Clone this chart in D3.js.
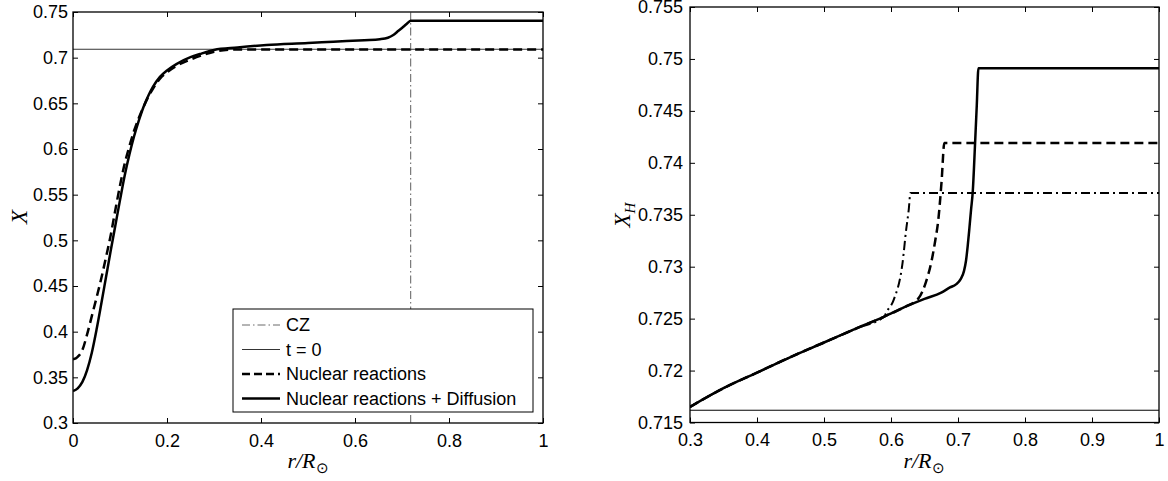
<!DOCTYPE html>
<html>
<head>
<meta charset="utf-8">
<script src="https://cdn.jsdelivr.net/npm/d3@7"></script>
<style>
  body { margin: 0; background: #fff; }
  svg text { font-family: "Liberation Sans", Arial, sans-serif; fill: #000; }
  .tick line { stroke: #000; }
  .math { font-family: "Liberation Serif", "Times New Roman", serif; font-style: italic; }
</style>
</head>
<body>
<div id="chart"></div>
<script>
// ---- left panel: hydrogen profile X(r) ----
var leftXTicks = [0, 0.2, 0.4, 0.6, 0.8, 1];
var leftYTicks = [0.3, 0.35, 0.4, 0.45, 0.5, 0.55, 0.6, 0.65, 0.7, 0.75];
var czRadius = 0.7185;
var initialX = 0.7092;

var leftDiffR = [0, 0.01, 0.02, 0.03, 0.04, 0.05, 0.06, 0.07, 0.08, 0.09, 0.1, 0.11, 0.12, 0.13, 0.14, 0.15, 0.16, 0.17, 0.185, 0.2, 0.22, 0.25, 0.27, 0.3, 0.35, 0.412, 0.5, 0.554, 0.62, 0.653, 0.67, 0.6815, 0.6925, 0.7028, 0.712, 0.7185, 1];
var leftDiffX = [0.335, 0.338, 0.345, 0.358, 0.377, 0.402, 0.43, 0.459, 0.488, 0.516, 0.544, 0.571, 0.594, 0.614, 0.631, 0.646, 0.658, 0.668, 0.679, 0.686, 0.693, 0.7005, 0.704, 0.7085, 0.7112, 0.7139, 0.716, 0.7175, 0.7192, 0.7202, 0.7218, 0.7248, 0.7295, 0.7339, 0.738, 0.7405, 0.7405];

var leftNucR = [0, 0.01, 0.02, 0.03, 0.04, 0.05, 0.06, 0.07, 0.08, 0.09, 0.1, 0.11, 0.12, 0.13, 0.14, 0.15, 0.16, 0.17, 0.185, 0.2, 0.22, 0.25, 0.28, 0.3, 0.32, 0.35, 1];
var leftNucX = [0.3696, 0.3725, 0.38, 0.397, 0.417, 0.437, 0.458, 0.481, 0.505, 0.533, 0.56, 0.584, 0.603, 0.62, 0.634, 0.646, 0.657, 0.666, 0.677, 0.684, 0.691, 0.698, 0.7035, 0.7065, 0.7082, 0.709, 0.709];

var legendLabels = ["CZ", "t = 0", "Nuclear reactions", "Nuclear reactions + Diffusion"];

// ---- right panel: zoom on the envelope ----
var rightXTicks = [0.3, 0.4, 0.5, 0.6, 0.7, 0.8, 0.9, 1];
var rightYTicks = [0.715, 0.72, 0.725, 0.73, 0.735, 0.74, 0.745, 0.75, 0.755];
var rightInitialX = 0.71618;

var rightDiffR = [0.3, 0.35, 0.4, 0.45, 0.5, 0.55, 0.59, 0.62, 0.65, 0.675, 0.688, 0.697, 0.704, 0.709, 0.712, 0.7145, 0.717, 0.7195, 0.722, 0.7255, 0.728, 0.7305, 1];
var rightDiffX = [0.7165, 0.7183, 0.7198, 0.7213, 0.7227, 0.7241, 0.7252, 0.7261, 0.7269, 0.7275, 0.728, 0.7283, 0.7288, 0.7296, 0.7306, 0.732, 0.7337, 0.7355, 0.7372, 0.7419, 0.7455, 0.7491, 0.7491];

var rightNucR = [0.3, 0.35, 0.4, 0.45, 0.5, 0.55, 0.59, 0.62, 0.6416, 0.652, 0.6607, 0.666, 0.6706, 0.6756, 0.6796, 1];
var rightNucX = [0.7165, 0.7183, 0.7198, 0.7213, 0.7227, 0.7241, 0.7252, 0.7261, 0.727, 0.7285, 0.7306, 0.7325, 0.7345, 0.7383, 0.7419, 0.7419];

var rightCzR = [0.3, 0.35, 0.4, 0.45, 0.5, 0.55, 0.59, 0.593, 0.604, 0.6173, 0.6227, 0.6265, 0.629, 1];
var rightCzX = [0.7165, 0.7183, 0.7198, 0.7213, 0.7227, 0.7241, 0.7252, 0.7256, 0.7268, 0.7304, 0.7336, 0.7355, 0.7371, 0.7371];

function zip(a, b) {
  return a.map(function (v, i) { return [v, b[i]]; });
}
function fmt(d) {
  return String(+d.toFixed(4));
}

var W = 1168, H = 481;
var svg = d3.select("#chart").append("svg").attr("width", W).attr("height", H);

function panel(id, box, xDom, yDom, xTicks, yTicks, yPad) {
  var x = d3.scaleLinear().domain(xDom).range([box.x0, box.x1]);
  var y = d3.scaleLinear().domain(yDom).range([box.y1, box.y0]);
  var g = svg.append("g");

  g.append("clipPath").attr("id", id)
    .append("rect")
    .attr("x", box.x0).attr("y", box.y0)
    .attr("width", box.x1 - box.x0).attr("height", box.y1 - box.y0);

  var bottom = g.append("g").attr("transform", "translate(0," + box.y1 + ")")
    .call(d3.axisBottom(x).tickValues(xTicks).tickSize(-5).tickPadding(11).tickFormat(fmt));
  var top = g.append("g").attr("transform", "translate(0," + box.y0 + ")")
    .call(d3.axisTop(x).tickValues(xTicks).tickSize(-5).tickFormat(""));
  var left = g.append("g").attr("transform", "translate(" + box.x0 + ",0)")
    .call(d3.axisLeft(y).tickValues(yTicks).tickSize(-5).tickPadding(yPad).tickFormat(fmt));
  var right = g.append("g").attr("transform", "translate(" + box.x1 + ",0)")
    .call(d3.axisRight(y).tickValues(yTicks).tickSize(-5).tickFormat(""));

  [bottom, top, left, right].forEach(function (a) {
    a.select(".domain").remove();
    a.selectAll("text").style("font-size", "18px").style("font-family", "'Liberation Sans', Arial, sans-serif");
  });

  g.append("rect")
    .attr("x", box.x0).attr("y", box.y0)
    .attr("width", box.x1 - box.x0).attr("height", box.y1 - box.y0)
    .attr("fill", "none").attr("stroke", "#000").attr("stroke-width", 1.3);

  var plot = g.append("g").attr("clip-path", "url(#" + id + ")");
  return { x: x, y: y, g: g, plot: plot };
}

function drawLine(p, data, width, dash, color) {
  var line = d3.line()
    .x(function (d) { return p.x(d[0]); })
    .y(function (d) { return p.y(d[1]); })
    .curve(d3.curveMonotoneX);
  p.plot.append("path")
    .datum(data)
    .attr("d", line)
    .attr("fill", "none")
    .attr("stroke", color || "#000")
    .attr("stroke-width", width)
    .attr("stroke-dasharray", dash || null)
    .attr("stroke-linejoin", "round");
}

// left panel
var L = panel("clipL", { x0: 73, x1: 543, y0: 12, y1: 423 }, [0, 1], [0.3, 0.75], leftXTicks, leftYTicks, 5);

L.plot.append("line")
  .attr("x1", L.x(czRadius)).attr("x2", L.x(czRadius))
  .attr("y1", L.y(0.3)).attr("y2", L.y(0.75))
  .attr("stroke", "#333").attr("stroke-width", 0.8)
  .attr("stroke-dasharray", "8,3,1.5,3");
L.plot.append("line")
  .attr("x1", L.x(0)).attr("x2", L.x(1))
  .attr("y1", L.y(initialX)).attr("y2", L.y(initialX))
  .attr("stroke", "#000").attr("stroke-width", 0.8);
drawLine(L, zip(leftNucR, leftNucX), 2.5, "9,5");
drawLine(L, zip(leftDiffR, leftDiffX), 2.5);

// legend
var lg = L.g.append("g");
lg.append("rect")
  .attr("x", 233).attr("y", 309).attr("width", 300).attr("height", 103)
  .attr("fill", "#fff").attr("stroke", "#000").attr("stroke-width", 1);
var legendStyles = [
  { w: 0.8, dash: "8,3,1.5,3", color: "#444" },
  { w: 0.8, dash: null, color: "#000" },
  { w: 2.5, dash: "8,4", color: "#000" },
  { w: 2.5, dash: null, color: "#000" }
];
legendLabels.forEach(function (label, i) {
  var yy = 325 + i * 24.5;
  var s = legendStyles[i];
  lg.append("line")
    .attr("x1", 242).attr("x2", 280).attr("y1", yy).attr("y2", yy)
    .attr("stroke", s.color).attr("stroke-width", s.w)
    .attr("stroke-dasharray", s.dash);
  lg.append("text")
    .attr("x", 286).attr("y", yy).attr("dy", "0.35em")
    .style("font-size", "18px")
    .text(label);
});

// right panel
var R = panel("clipR", { x0: 690, x1: 1159, y0: 7, y1: 422.5 }, [0.3, 1], [0.715, 0.755], rightXTicks, rightYTicks, 7);

R.plot.append("line")
  .attr("x1", R.x(0.3)).attr("x2", R.x(1))
  .attr("y1", R.y(rightInitialX)).attr("y2", R.y(rightInitialX))
  .attr("stroke", "#000").attr("stroke-width", 1);
drawLine(R, zip(rightCzR, rightCzX), 2, "9,4,2,4");
drawLine(R, zip(rightNucR, rightNucX), 2.5, "9,5");
drawLine(R, zip(rightDiffR, rightDiffX), 2.5);

// axis labels
function xLabel(cx, cy) {
  var t = svg.append("text").attr("class", "math")
    .attr("x", cx).attr("y", cy).attr("text-anchor", "middle")
    .style("font-size", "22px");
  t.append("tspan").text("r/R");
  t.append("tspan").attr("dy", 5).style("font-style", "normal")
    .style("font-size", "15px").text("\u2299");
}
xLabel(308, 468);
xLabel(924, 468);

svg.append("text").attr("class", "math")
  .attr("transform", "translate(27,217) rotate(-90)")
  .attr("text-anchor", "middle")
  .style("font-size", "23px")
  .text("X");

var yl = svg.append("text").attr("class", "math")
  .attr("transform", "translate(630,215) rotate(-90)")
  .attr("text-anchor", "middle")
  .style("font-size", "23px");
yl.append("tspan").text("X");
yl.append("tspan").attr("dy", 5).style("font-size", "15px").text("H");
</script>
</body>
</html>
